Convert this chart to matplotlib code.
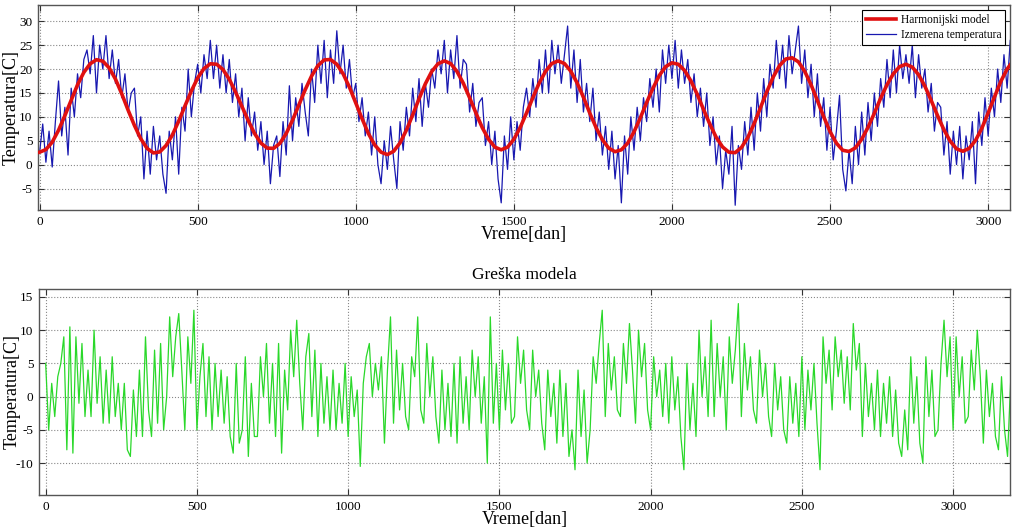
import numpy as np
import matplotlib
matplotlib.use("Agg")
import matplotlib.pyplot as plt

# ---------------- data ----------------
STEP_MODEL = 20      # days between model samples
STEP_MEAS = 10       # days between measured / error samples

harmonic_model = [
    2.6, 3.15, 4.7, 7.2, 10.25, 13.5, 16.7, 19.3, 21.1, 21.95,
    21.65, 20.25, 17.9, 14.8, 11.4, 8.2, 5.4, 3.4, 2.45, 2.65,
    4.0, 6.2, 9.1, 12.3, 15.4, 18.15, 20.1, 21.1, 21.0, 19.9,
    17.85, 15.15, 12.2, 9.2, 6.5, 4.5, 3.45, 3.4, 4.45, 6.5,
    9.3, 12.5, 15.65, 18.5, 20.7, 21.9, 22.0, 21.0, 19.0, 16.2,
    12.9, 9.6, 6.5, 4.1, 2.6, 2.1, 2.8, 4.55, 7.2, 10.4,
    13.75, 16.9, 19.45, 21.1, 21.7, 21.15, 19.5, 17.05, 14.0, 10.8,
    7.75, 5.3, 3.65, 3.1, 3.65, 5.3, 7.75, 10.8, 14.0, 17.05,
    19.5, 21.15, 21.7, 21.15, 19.55, 17.1, 14.1, 10.8, 7.75, 5.2,
    3.45, 2.7, 3.1, 4.5, 6.85, 9.8, 13.0, 16.0, 18.65, 20.5,
    21.3, 21.0, 19.7, 17.5, 14.7, 11.5, 8.45, 5.7, 3.7, 2.6,
    2.5, 3.6, 5.7, 8.6, 11.9, 15.25, 18.3, 20.7, 22.1, 22.35,
    21.5, 19.5, 16.7, 13.4, 10.0, 6.9, 4.5, 3.0, 2.75, 3.5,
    5.3, 7.8, 10.75, 13.9, 16.7, 19.0, 20.5, 21.0, 20.4, 18.8,
    16.4, 13.4, 10.25, 7.3, 4.9, 3.3, 2.8, 3.4, 5.05, 7.6,
    10.8, 14.15, 17.4, 20.0, 21.8,
]

measured_temp = [
    2.5, 8.5, 0.5, 7, -0.5,   9, 17.5, 6, 12, 2,   16, 10, 19, 14, 22,   24, 19, 27, 15, 25,
    20, 27, 18, 24, 17,   22, 14, 19, 11, 15,   16, 6, 10, -3, 7,   -2, 8, 1, 6, -2,
    -6, 7, 1, 10, -2,   12, 7, 20, 10, 17,   21, 15, 23, 18, 26,   18, 25, 16, 23, 15,
    22, 13, 19, 10, 16,   5, 14, 6, 11, 3,   9, 0, 7, -4, 4,   6, -2.5, 9, 2, 16.5,
    5, 14, 8, 17, 11,   6, 20, 13, 25, 17,   26, 14, 24, 17, 28,   19, 25, 16, 22, 14,
    17, 9, 14, 6, 11,   2, 10, 0, -4, 5,   -1, 8, 1, -5, 9,   3, 12, 6, 16, 9,
    18, 8, 17, 12, 20,   16, 24, 19, 26, 15,   24, 18, 27, 16, 22,   21, 11, 17, 8, 13,
    14, 4, 9, 0, 7,   -3, -8, 6, -1, 10,   1, 9, 3, 12, 16,   10, 18, 12, 22, 15,
    24, 15, 26, 19, 25,   17, 23, 29, 16, 24,   13, 22, 11, 17, 9,   16, 5, 11, 2, 8,
    -1, 7, -3, 4, -8,   6, -2, 10, 3, 12,   5, 14, 9, 18, 12,   20, 11, 24, 17, 25,
    18, 26, 16, 24, 17,   22, 13, 19, 10, 16,   8, 15, 4, 10, 0,   6, -5, 3, -2, 8,
    -8.5, 4, -1, 9, 2,   12, 3, 15, 7, 18,   10, 21, 16, 26, 18,   25, 16, 27, 19, 24,
    29, 17, 24, 14, 21,   10, 19, 8, 14, 3,   12, 1, 7, 14.5, -1,   -5.5, 3, -4, 8, 0,
    11, 2, 13, 5, 15,   8, 18, 12, 22, 14,   24, 15, 25, 18, 23,   17, 25, 14, 23, 16,
    20, 11, 17, 7, 13,   12, 2, 9, -2, 7,   0, 8, -3, 6, 1,   9, -4, 11, 4, 14,
    6, 16, 10, 20, 13,   23, 16, 26,
]

model_error = [
    5, -5, 2, -3, 3,   5, 9, -8, 10.5, -8.5,   9, -1, 8, -3, 4,   -3, 10, -1, 6, -4,
    4, -4, 6, -3, 2,   -5, 2, -8, -9, 1,   -6, 4, -6, 9, -2,   -6, 7, -4, 8, -5,
    0, 12, 3, 9, 12.5,   4, -5, 9, 2, 13,   -5, 3, 8, -3, 6,   -5, 5, -3, 4, -4,
    3, -6, -8.5, 5, -7,   -5, 6, -9, 2, -6,   -6, 6, 0, 8, -4,   5, -6, 8, -8.5, 4,
    -2, 10, 3, 11.5, 2,   -5, 6, 9.5, -3, 7,   -6, 5, -4, 3, -5,   4, -5, 2, -4, 5,
    -6, 3, -3, 1, -10.5,   2, 6, 8, 0, 5,   1, 6, -7, 4, 12,   -4, 7, -2, 5, -3,
    -5, 6, 3, 12, -2,   -4, 8, 0, 6, -3,   -7, 4, -5, 2, -6,   5, -7, 6, -4, 3,
    -5, 7, 0, 6, -4,   3, -10, 12, -4, 5,   -5, 7, -2, 5, -4,   -3, 9, 2, 7, -2,
    -5, 7, 0, 4, -4,   -8, 4, -3, 2, -7,   4, -6, 2, -9, -5,   -11, 4, -6, 1, -10,
    -5, 6, 2, 8, 13,   -3, 8, 1, 6, -2,   -3, 8, 2, 11, 4,   -4, 10, 3, 8, -2,
    -5, 6, 0, 4, -3,   5, -4, 6, -2, 3,   -6, -11, 5, -5, 2,   -6, 10, 0, 6, -3,
    11.5, -3, 8, 0, 6,   -5, 9, 2, 7, 14,   -3, 8, 1, 6, -2,   -4, 7, 0, 5, -3,
    -6, 5, -2, 3, -5,   -7, 3, -4, 2, -6,   6, -5, 4, -2, 5,   -4, -11, 9, 2, 7,
    -2, 9, 3, 7, -1,   6, -2, 11, 4, 8,   -6, 5, -3, 2, -5,   4, -6, 2, -4, 3,
    -6, 1, -7, -9, -2,   -8, 6, -4, 3, -7,   -10, 6, -3, 4, -6,   -5, 5, 11.5, 3, 9,
    -5, 9, 0, 6, -4,   -3, 7, 1, 10, 3,   -7, 4, -3, 2, -6,   -8, 3, -5, -9, 2,
]

x_ticks = [0, 500, 1000, 1500, 2000, 2500, 3000]
top_y_ticks = [-5, 0, 5, 10, 15, 20, 25, 30]
bot_y_ticks = [-10, -5, 0, 5, 10, 15]

legend_labels = ["Harmonijski model", "Izmerena temperatura"]
xlabel_text = "Vreme[dan]"
ylabel_text = "Temperatura[C]"
title_bottom = "Greška modela"

# ---------------- plotting ----------------
plt.rcParams['font.family'] = ['Liberation Serif', 'DejaVu Serif']
plt.rcParams['axes.unicode_minus'] = False

fig = plt.figure(figsize=(10.24, 5.31), dpi=100)
ax1 = fig.add_axes([0.0371, 0.6045, 0.9492, 0.3861])
ax2 = fig.add_axes([0.0381, 0.0678, 0.9482, 0.3880])

days_model = np.arange(len(harmonic_model)) * STEP_MODEL
days_meas = np.arange(len(measured_temp)) * STEP_MEAS
days_err = np.arange(len(model_error)) * STEP_MEAS

l_meas, = ax1.plot(days_meas, measured_temp, color='#1818b0', lw=0.9, zorder=2)
l_model, = ax1.plot(days_model, harmonic_model, color='#e01010', lw=2.6, zorder=3)
ax2.plot(days_err, model_error, color='#2ad82a', lw=0.9)

def style(ax, xlim, ylim, yt):
    ax.set_xlim(*xlim)
    ax.set_ylim(*ylim)
    ax.set_xticks(x_ticks)
    ax.set_yticks(yt)
    ax.grid(True, linestyle=':', color='#888888', lw=0.8)
    ax.set_axisbelow(True)
    ax.tick_params(direction='in', length=4, top=True, right=True,
                   labelsize=9.5, colors='#333333', labelcolor='black',
                   width=0.8, pad=4)
    for s in ax.spines.values():
        s.set_color('#555555')
        s.set_linewidth(1.0)
    ax.set_xlabel(xlabel_text, fontsize=13, labelpad=-1)
    ax.set_ylabel(ylabel_text, fontsize=13)
    ax.yaxis.set_label_coords(-0.0185, 0.5)

style(ax1, (-5, 3069), (-9.5, 33.4), top_y_ticks)
style(ax2, (-22, 3188), (-14.8, 16.2), bot_y_ticks)
ax2.set_title(title_bottom, fontsize=12.5, pad=7)

leg = ax1.legend([l_model, l_meas], legend_labels, loc='upper right',
                 fontsize=8.3, frameon=True, fancybox=False, framealpha=1,
                 edgecolor='black', borderpad=0.35, handlelength=2.6,
                 handletextpad=0.4, labelspacing=0.3, borderaxespad=0.4)
leg.get_frame().set_linewidth(0.8)

fig.savefig("out.png", dpi=100)
